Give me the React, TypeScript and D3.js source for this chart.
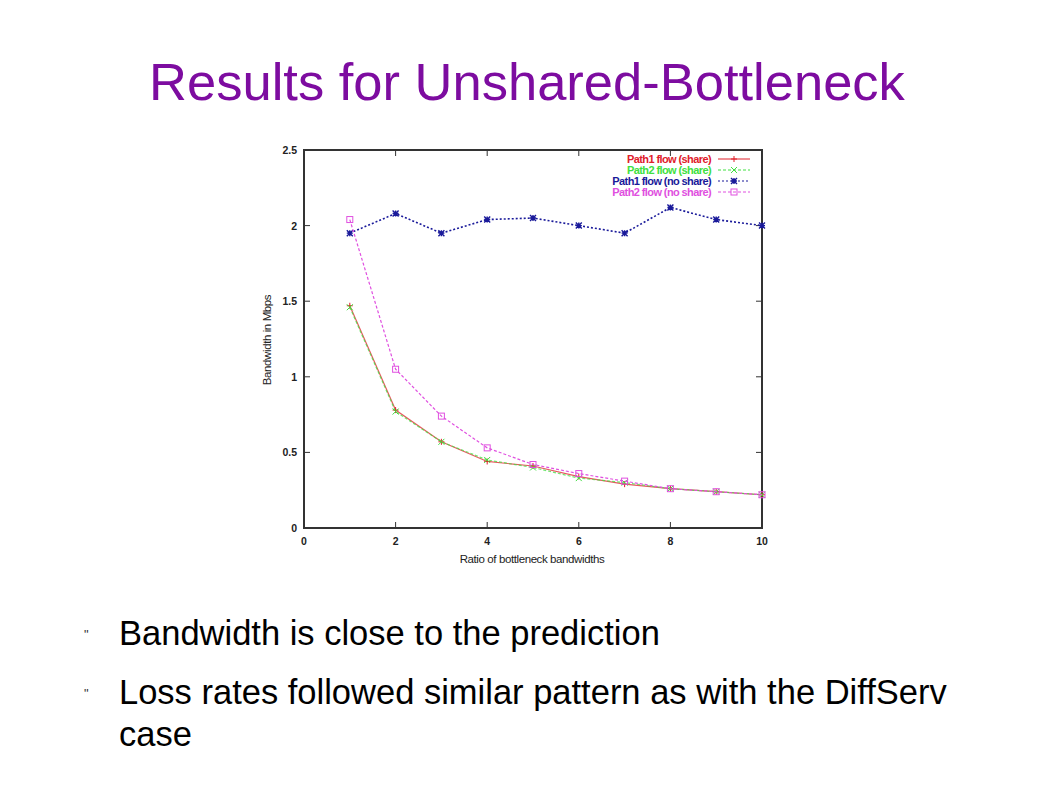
import React, { useEffect, useRef } from 'react';
import * as d3 from 'd3';

const ratios = [1, 2, 3, 4, 5, 6, 7, 8, 9, 10];
const path1Share = [1.47, 0.78, 0.57, 0.44, 0.41, 0.34, 0.29, 0.26, 0.24, 0.22];
const path2Share = [1.46, 0.77, 0.57, 0.45, 0.40, 0.33, 0.30, 0.26, 0.24, 0.22];
const path1NoShare = [1.95, 2.08, 1.95, 2.04, 2.05, 2.0, 1.95, 2.12, 2.04, 2.0];
const path2NoShare = [2.04, 1.05, 0.74, 0.53, 0.42, 0.36, 0.31, 0.26, 0.24, 0.22];

const xTicks = [0, 2, 4, 6, 8, 10];
const yTicks = [0, 0.5, 1, 1.5, 2, 2.5];
const yTickLabels = ['0', '0.5', '1', '1.5', '2', '2.5'];

const seriesNames = ['Path1 flow (share)', 'Path2 flow (share)', 'Path1 flow (no share)', 'Path2 flow (no share)'];
const seriesColors = ['#e0202a', '#40e040', '#1a1a9a', '#e050e0'];
const seriesDash = ['none', '3,2', '2,2', '3,2'];
const seriesMarker = ['plus', 'cross', 'star', 'square'];

const bullets = [
  ['Bandwidth is close to the prediction'],
  ['Loss rates followed similar pattern as with the DiffServ', 'case'],
];

const W = 1058;
const H = 793;

const App: React.FC = () => {
  const svgRef = useRef<SVGSVGElement>(null);

  useEffect(() => {
    if (!svgRef.current) return;
    const svg = d3.select(svgRef.current);
    svg.selectAll('*').remove();

    const plot = { left: 304, right: 762, top: 150, bottom: 528 };
    const x = d3.scaleLinear().domain([0, 10]).range([plot.left, plot.right]);
    const y = d3.scaleLinear().domain([0, 2.5]).range([plot.bottom, plot.top]);

    svg.append('rect').attr('width', W).attr('height', H).attr('fill', '#ffffff');

    const font = 'Liberation Sans, Arial, sans-serif';

    // Title
    svg.append('text')
      .attr('x', 527).attr('y', 100)
      .attr('text-anchor', 'middle')
      .attr('font-family', font)
      .attr('font-size', 52.5)
      .attr('fill', '#7d0ca0')
      .text('Results for Unshared-Bottleneck');

    const g = svg.append('g');

    // ticks (gnuplot style, mirrored)
    xTicks.forEach((t) => {
      g.append('line').attr('x1', x(t)).attr('x2', x(t)).attr('y1', plot.bottom).attr('y2', plot.bottom - 6)
        .attr('stroke', '#333').attr('stroke-width', 1);
      g.append('line').attr('x1', x(t)).attr('x2', x(t)).attr('y1', plot.top).attr('y2', plot.top + 6)
        .attr('stroke', '#333').attr('stroke-width', 1);
      g.append('text').attr('x', x(t)).attr('y', plot.bottom + 17)
        .attr('text-anchor', 'middle').attr('font-family', font).attr('font-size', 10.5)
        .attr('font-weight', 'bold').attr('fill', '#222').text(String(t));
    });
    yTicks.forEach((t, i) => {
      g.append('line').attr('x1', plot.left).attr('x2', plot.left + 6).attr('y1', y(t)).attr('y2', y(t))
        .attr('stroke', '#333').attr('stroke-width', 1);
      g.append('line').attr('x1', plot.right).attr('x2', plot.right - 6).attr('y1', y(t)).attr('y2', y(t))
        .attr('stroke', '#333').attr('stroke-width', 1);
      g.append('text').attr('x', plot.left - 7).attr('y', y(t) + 4)
        .attr('text-anchor', 'end').attr('font-family', font).attr('font-size', 10.5)
        .attr('font-weight', 'bold').attr('fill', '#222').text(yTickLabels[i]);
    });

    // frame
    g.append('rect')
      .attr('x', plot.left).attr('y', plot.top)
      .attr('width', plot.right - plot.left).attr('height', plot.bottom - plot.top)
      .attr('fill', 'none').attr('stroke', '#333').attr('stroke-width', 2);

    // axis labels
    g.append('text').attr('x', 532).attr('y', 563)
      .attr('text-anchor', 'middle').attr('font-family', font).attr('font-size', 11.5)
      .attr('fill', '#222').attr('letter-spacing', -0.4).text('Ratio of bottleneck bandwidths');
    g.append('text').attr('transform', `translate(271,340) rotate(-90)`)
      .attr('text-anchor', 'middle').attr('font-family', font).attr('font-size', 11.5)
      .attr('fill', '#222').attr('letter-spacing', -0.4).text('Bandwidth in Mbps');

    const allSeries = [path1Share, path2Share, path1NoShare, path2NoShare];
    const line = d3.line<number>().x((_, i) => x(ratios[i])).y((d) => y(d));

    const drawMarker = (sel: d3.Selection<SVGGElement, unknown, null, undefined>, kind: string, cx: number, cy: number, color: string) => {
      const s = 3;
      if (kind === 'plus') {
        sel.append('path').attr('d', `M${cx - s},${cy}H${cx + s}M${cx},${cy - s}V${cy + s}`)
          .attr('stroke', color).attr('stroke-width', 1).attr('fill', 'none');
      } else if (kind === 'cross') {
        sel.append('path').attr('d', `M${cx - s},${cy - s}L${cx + s},${cy + s}M${cx - s},${cy + s}L${cx + s},${cy - s}`)
          .attr('stroke', color).attr('stroke-width', 1).attr('fill', 'none');
      } else if (kind === 'star') {
        sel.append('path').attr('d', `M${cx - s},${cy - s}L${cx + s},${cy + s}M${cx - s},${cy + s}L${cx + s},${cy - s}M${cx - s},${cy}H${cx + s}M${cx},${cy - s}V${cy + s}`)
          .attr('stroke', color).attr('stroke-width', 1.4).attr('fill', 'none');
      } else {
        sel.append('rect').attr('x', cx - 3).attr('y', cy - 3).attr('width', 6).attr('height', 6)
          .attr('stroke', color).attr('stroke-width', 1).attr('fill', 'none');
      }
    };

    allSeries.forEach((vals, si) => {
      const sg = g.append('g');
      sg.append('path').datum(vals).attr('d', line)
        .attr('fill', 'none').attr('stroke', seriesColors[si])
        .attr('stroke-width', si === 2 ? 1.6 : 1.2)
        .attr('stroke-dasharray', seriesDash[si])
        .attr('opacity', si < 2 ? 0.75 : 1);
      vals.forEach((v, i) => drawMarker(sg, seriesMarker[si], x(ratios[i]), y(v), seriesColors[si]));
    });

    // legend
    seriesNames.forEach((name, i) => {
      const ly = 159 + i * 11;
      g.append('text').attr('x', 711).attr('y', ly + 4)
        .attr('text-anchor', 'end').attr('font-family', font).attr('font-size', 11)
        .attr('font-weight', 'bold').attr('letter-spacing', -0.6)
        .attr('fill', seriesColors[i]).text(name);
      g.append('line').attr('x1', 718).attr('x2', 750).attr('y1', ly).attr('y2', ly)
        .attr('stroke', seriesColors[i]).attr('stroke-width', 1).attr('stroke-dasharray', seriesDash[i]);
      const lg = g.append('g');
      drawMarker(lg, seriesMarker[i], 734, ly, seriesColors[i]);
    });

    // bullets
    let by = 645;
    bullets.forEach((lines) => {
      svg.append('text').attr('x', 84).attr('y', by - 6)
        .attr('font-family', font).attr('font-size', 13).attr('fill', '#333').text('"');
      lines.forEach((ln, li) => {
        svg.append('text').attr('x', 119).attr('y', by + li * 42)
          .attr('font-family', font).attr('font-size', 34.5).attr('fill', '#000').text(ln);
      });
      by += 59;
    });
  }, []);

  return (
    <svg
      ref={svgRef}
      width={W}
      height={H}
      viewBox={`0 0 ${W} ${H}`}
      style={{ position: 'absolute', left: 0, top: 0 }}
    />
  );
};

export default App;
